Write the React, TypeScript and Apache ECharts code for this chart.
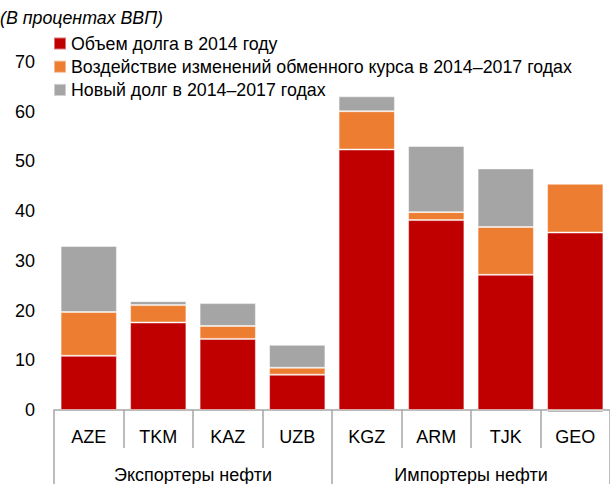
import React, { useEffect, useRef } from "react";
import * as echarts from "echarts";

const categories = ["AZE", "TKM", "KAZ", "UZB", "KGZ", "ARM", "TJK", "GEO"];
const groups = ["Экспортеры нефти", "Импортеры нефти"];
const debt2014 = [10.9, 17.6, 14.3, 7.1, 52.4, 38.2, 27.2, 35.7];
const fxEffect = [8.8, 3.5, 2.6, 1.4, 7.7, 1.6, 9.6, 9.8];
const newDebt = [13.3, 0.8, 4.6, 4.6, 3.0, 13.3, 11.8, -0.5];
const seriesNames = [
  "Объем долга в 2014 году",
  "Воздействие изменений обменного курса в 2014–2017 годах",
  "Новый долг в 2014–2017 годах",
];
const subtitle = "(В процентах ВВП)";

const FONT = "'Liberation Sans', Arial, sans-serif";

export default function App() {
  const ref = useRef<HTMLDivElement>(null);
  useEffect(() => {
    document.body.style.margin = "0";
    if (!ref.current) return;
    const chart = echarts.init(ref.current, null, { renderer: "svg" });
    const border = { borderColor: "rgba(255,255,255,0.45)", borderWidth: 1 };
    chart.setOption({
      animation: false,
      textStyle: { fontFamily: FONT },
      grid: { left: 54, right: -5, top: 62, bottom: 72, containLabel: false },
      legend: {
        orient: "vertical",
        left: 53,
        top: 34.5,
        padding: 0,
        itemWidth: 12,
        itemHeight: 12,
        itemGap: 5.2,
        icon: "rect",
        textStyle: { fontSize: 17.8, color: "#000", fontFamily: FONT, lineHeight: 18 },
        data: seriesNames,
      },
      graphic: [
        {
          type: "text",
          left: 0,
          top: 9,
          style: { text: subtitle, font: `italic 17.8px ${FONT}`, fill: "#000" },
        },
      ],
      xAxis: [
        {
          type: "category",
          data: categories,
          axisLine: { lineStyle: { color: "#a6a6a6", width: 1.5 } },
          axisTick: { show: true, length: 38, lineStyle: { color: "#a6a6a6", width: 1.5 } },
          axisLabel: { fontSize: 18, color: "#000", margin: 18, fontFamily: FONT },
        },
        {
          type: "category",
          data: groups,
          position: "bottom",
          offset: 38,
          axisLine: { show: false },
          axisTick: { show: true, length: 40, lineStyle: { color: "#a6a6a6", width: 1.5 } },
          axisLabel: { fontSize: 18, color: "#000", margin: 18, fontFamily: FONT },
        },
      ],
      yAxis: {
        type: "value",
        min: 0,
        max: 70,
        interval: 10,
        axisLine: { show: false },
        axisTick: { show: false },
        splitLine: { show: false },
        axisLabel: { fontSize: 18, color: "#000", margin: 19, fontFamily: FONT },
      },
      series: [
        {
          name: seriesNames[0],
          type: "bar",
          stack: "total",
          data: debt2014,
          barCategoryGap: "19%",
          itemStyle: { color: "#C00000", ...border },
        },
        {
          name: seriesNames[1],
          type: "bar",
          stack: "total",
          data: fxEffect,
          itemStyle: { color: "#ED7D31", ...border },
        },
        {
          name: seriesNames[2],
          type: "bar",
          stack: "total",
          data: newDebt,
          clip: false,
          itemStyle: { color: "#A5A5A5", ...border },
        },
      ],
    });
    return () => chart.dispose();
  }, []);
  return <div ref={ref} style={{ width: 610, height: 484 }} />;
}
